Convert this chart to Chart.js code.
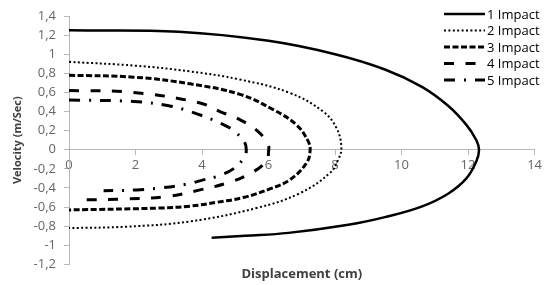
<!DOCTYPE html>
<html>
<head>
<meta charset="utf-8">
<script src="https://cdn.jsdelivr.net/npm/chart.js@4"></script>
<style>
  html, body { margin: 0; padding: 0; background: #fff; }
  #wrap { width: 545px; height: 285px; }
</style>
</head>
<body>
<div id="wrap"><canvas id="impactChart"></canvas></div>
<script>
// series names
const seriesNames = ['1 Impact', '2 Impact', '3 Impact', '4 Impact', '5 Impact'];

// displacement (cm) / velocity (m/Sec)
const impact1X = [0, 3.3, 6, 8, 9.5, 10.6, 11.4, 11.95, 12.25, 12.33, 12.25, 11.95, 11.4, 10.6, 9.5, 8.4, 6.6, 5.3, 4.29];
const impact1Y = [1.25, 1.235, 1.14, 1.0, 0.84, 0.66, 0.46, 0.26, 0.1, 0, -0.12, -0.3, -0.46, -0.595, -0.705, -0.785, -0.87, -0.9, -0.92];

const impact2X = [0, 2, 3.64, 5.14, 6.64, 7.64, 8.04, 8.19, 8.1, 7.84, 6.94, 5.64, 3.64, 1.74, 0];
const impact2Y = [0.92, 0.88, 0.82, 0.735, 0.595, 0.4, 0.23, 0.03, -0.1, -0.245, -0.455, -0.61, -0.75, -0.805, -0.82];

const impact3X = [0, 1.94, 3.64, 5.14, 6.14, 6.84, 7.19, 7.25, 7.14, 6.64, 6.04, 5.24, 4.44, 3.64, 2.74, 0];
const impact3Y = [0.78, 0.76, 0.69, 0.58, 0.42, 0.26, 0.09, -0.01, -0.14, -0.315, -0.41, -0.5, -0.55, -0.59, -0.61, -0.63];

const impact4X = [0, 1.94, 3.94, 4.54, 5.14, 5.69, 5.99, 6.0, 5.94, 5.39, 4.74, 3.94, 2.94, 1.74, 0.2];
const impact4Y = [0.62, 0.6, 0.49, 0.4, 0.315, 0.19, 0.05, -0.02, -0.12, -0.26, -0.35, -0.42, -0.49, -0.515, -0.525];

const impact5X = [0, 1.94, 3.0, 3.64, 4.54, 4.99, 5.29, 5.33, 5.29, 4.94, 4.44, 4.04, 3.54, 2.74, 2.04, 1.04];
const impact5Y = [0.52, 0.505, 0.46, 0.4, 0.28, 0.19, 0.07, 0, -0.07, -0.2, -0.28, -0.315, -0.36, -0.4, -0.42, -0.43];

const allX = [impact1X, impact2X, impact3X, impact4X, impact5X];
const allY = [impact1Y, impact2Y, impact3Y, impact4Y, impact5Y];

// line looks
const dashes = [[], [2, 2.4], [6, 2.5], [10, 11.5], [11, 9, 2, 9]];
const widths = [2.5, 2, 3, 3, 3];

function toPoints(xs, ys) {
	return xs.map((x, i) => ({ x: x, y: ys[i] }));
}

function commaNum(v) {
	return String(Number(Number(v).toFixed(1))).replace('.', ',');
}

const datasets = seriesNames.map((name, i) => ({
	label: name,
	data: toPoints(allX[i], allY[i]),
	showLine: true,
	borderColor: '#000',
	borderWidth: widths[i],
	borderDash: dashes[i],
	pointRadius: 0,
	tension: 0.4,
	fill: false
}));

// legend drawn over the plot, right side
const sideLegend = {
	id: 'sideLegend',
	afterDraw(chart) {
		const ctx = chart.ctx;
		ctx.save();
		chart.data.datasets.forEach((ds, i) => {
			const y = 14 + i * 16.5;
			ctx.beginPath();
			ctx.setLineDash(ds.borderDash);
			ctx.lineWidth = ds.borderWidth;
			ctx.strokeStyle = ds.borderColor;
			ctx.moveTo(444, y);
			ctx.lineTo(485, y);
			ctx.stroke();
			ctx.setLineDash([]);
			ctx.fillStyle = '#000';
			ctx.font = '13px "Open Sans"';
			ctx.textBaseline = 'middle';
			ctx.textAlign = 'left';
			ctx.fillText(ds.label, 487, y + 1);
		});
		ctx.restore();
	}
};

new Chart(document.getElementById('impactChart'), {
	type: 'scatter',
	data: { datasets: datasets },
	plugins: [sideLegend],
	options: {
		responsive: true,
		maintainAspectRatio: false,
		animation: false,
		layout: { padding: { top: 16, right: 10, left: 7, bottom: 0 } },
		plugins: {
			legend: { display: false },
			tooltip: { enabled: false },
			title: {
				display: true,
				text: 'Displacement (cm)',
				position: 'bottom',
				fullSize: false,
				color: '#404040',
				font: { family: 'Open Sans', size: 13, weight: 'bold' },
				padding: { top: 2, bottom: 3 }
			}
		},
		scales: {
			x: {
				type: 'linear',
				position: { y: 0 },
				min: 0,
				max: 14,
				ticks: {
					stepSize: 2,
					color: '#666',
					font: { family: 'Open Sans', size: 13 },
					padding: 3
				},
				grid: { drawOnChartArea: false, tickLength: 5, color: '#b8b8b8' },
				border: { color: '#b8b8b8' }
			},
			y: {
				min: -1.2,
				max: 1.4,
				afterFit: function (scale) { scale.width = 62; },
				ticks: {
					stepSize: 0.2,
					color: '#666',
					font: { family: 'Open Sans', size: 13 },
					padding: 8,
					callback: function (v) { return commaNum(v); }
				},
				grid: { drawOnChartArea: false, tickLength: 5, color: '#b8b8b8' },
				border: { color: '#b8b8b8' },
				title: {
					display: true,
					text: 'Velocity (m/Sec)',
					color: '#404040',
					font: { family: 'Open Sans', size: 11, weight: 'bold' },
					padding: { top: 4, bottom: 0 }
				}
			}
		}
	}
});
</script>
</body>
</html>
